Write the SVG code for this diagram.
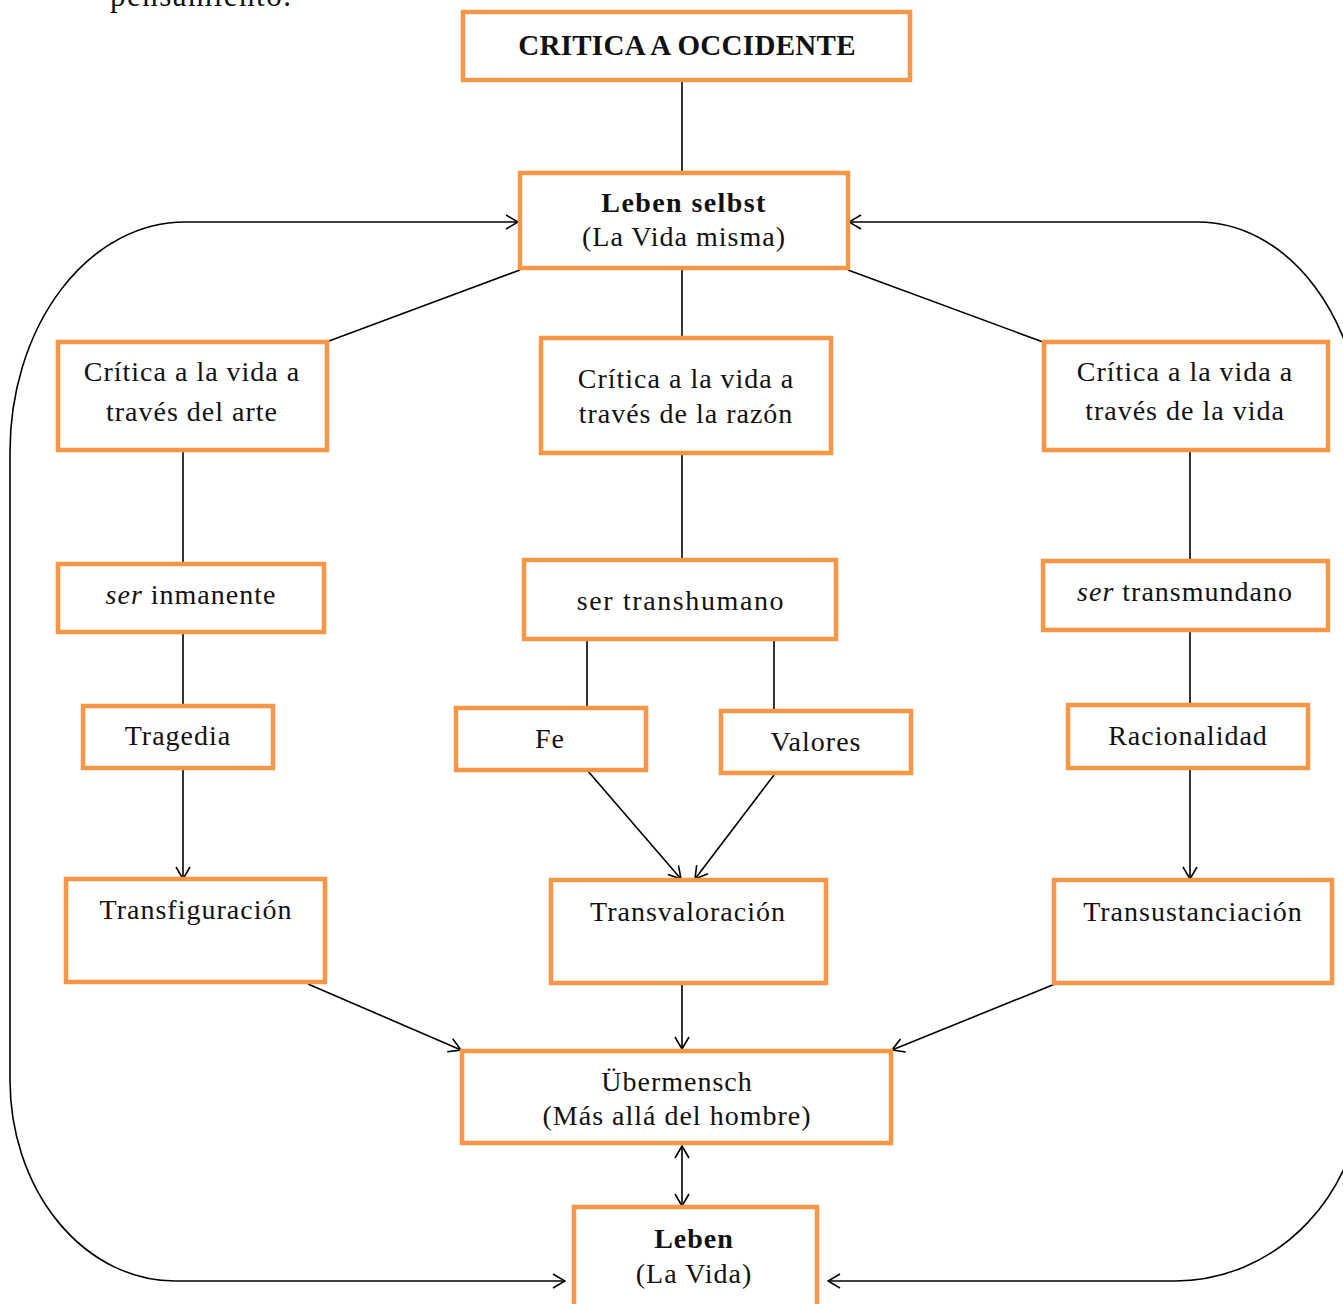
<svg xmlns="http://www.w3.org/2000/svg" width="1343" height="1304" viewBox="0 0 1343 1304">
<style>
.box{fill:#fff;stroke:#F79646;stroke-width:4.5}
.t{font-family:"Liberation Serif","DejaVu Serif",serif;font-size:28px;letter-spacing:1px;fill:#111;text-anchor:middle}
.b{font-weight:bold}
.i{font-style:italic}
.c{fill:none;stroke:#000;stroke-width:1.6}
.a{fill:none;stroke:#000;stroke-width:1.6;marker-end:url(#arr)}
</style>
<defs>
<marker id="arr" viewBox="0 0 14 16" refX="13" refY="8" markerWidth="14" markerHeight="16" markerUnits="userSpaceOnUse" orient="auto-start-reverse">
<path d="M1,1 L13,8 L1,15" fill="none" stroke="#000" stroke-width="1.6"/>
</marker>
</defs>
<text x="110" y="6" class="t" style="text-anchor:start;font-size:31px;letter-spacing:1.5px">pensamiento.</text>
<g id="connectors">
<line class="c" x1="682" y1="82" x2="682" y2="171"/>
<line class="c" x1="520" y1="270" x2="329" y2="341"/>
<line class="c" x1="682" y1="270" x2="682" y2="337"/>
<line class="c" x1="848" y1="270" x2="1043" y2="342"/>
<line class="c" x1="183" y1="452" x2="183" y2="562"/>
<line class="c" x1="183" y1="634" x2="183" y2="705"/>
<line class="a" x1="183" y1="770" x2="183" y2="879"/>
<line class="c" x1="682" y1="455" x2="682" y2="559"/>
<line class="c" x1="587" y1="641" x2="587" y2="707"/>
<line class="c" x1="774" y1="641" x2="774" y2="710"/>
<line class="a" x1="587" y1="770" x2="681" y2="879"/>
<line class="a" x1="774" y1="775" x2="695" y2="879"/>
<line class="c" x1="1190" y1="452" x2="1190" y2="560"/>
<line class="c" x1="1190" y1="632" x2="1190" y2="704"/>
<line class="a" x1="1190" y1="770" x2="1190" y2="879"/>
<line class="a" x1="308" y1="984" x2="461" y2="1050"/>
<line class="a" x1="682" y1="985" x2="682" y2="1049"/>
<line class="a" x1="1055" y1="984" x2="892" y2="1050"/>
<line class="a" x1="682" y1="1146" x2="682" y2="1206" style="marker-start:url(#arr)"/>
<path class="a" d="M185,222 L518,222"/>
<path class="c" d="M185,222 A175,230 0 0 0 10,452 L10,1080 A165,201 0 0 0 175,1281"/>
<path class="a" d="M175,1281 L565,1281"/>
<path class="a" d="M1198,222 L849,222"/>
<path class="c" d="M1198,222 A165,220 0 0 1 1363,442 L1363,1081 A188,200 0 0 1 1175,1281"/>
<path class="a" d="M1175,1281 L828,1281"/>
</g>
<g id="n-critica"><rect class="box" x="463" y="12" width="447" height="68"/><text class="t b" x="687" y="55" style="font-size:29px;letter-spacing:0.3px">CRITICA A OCCIDENTE</text></g>
<g id="n-lebenselbst"><rect class="box" x="520" y="173" width="328" height="95"/><text class="t b" x="684" y="212" style="letter-spacing:1.4px">Leben selbst</text><text class="t" x="684" y="246">(La Vida misma)</text></g>
<g id="n-arte"><rect class="box" x="58" y="342" width="269" height="108"/><text class="t" x="192" y="381">Crítica a la vida a</text><text class="t" x="192" y="421">través del arte</text></g>
<g id="n-razon"><rect class="box" x="541" y="338" width="290" height="115"/><text class="t" x="686" y="388">Crítica a la vida a</text><text class="t" x="686" y="423">través de la razón</text></g>
<g id="n-vida"><rect class="box" x="1044" y="342" width="284" height="108"/><text class="t" x="1185" y="381">Crítica a la vida a</text><text class="t" x="1185" y="420">través de la vida</text></g>
<g id="n-inmanente"><rect class="box" x="58" y="564" width="266" height="68"/><text class="t" x="191" y="604"><tspan class="i">ser</tspan> inmanente</text></g>
<g id="n-transhumano"><rect class="box" x="524" y="560" width="312" height="79"/><text class="t" x="681" y="610" style="letter-spacing:1.6px">ser transhumano</text></g>
<g id="n-transmundano"><rect class="box" x="1043" y="561" width="285" height="69"/><text class="t" x="1185" y="601"><tspan class="i">ser</tspan> transmundano</text></g>
<g id="n-tragedia"><rect class="box" x="83" y="706" width="190" height="62"/><text class="t" x="178" y="745">Tragedia</text></g>
<g id="n-fe"><rect class="box" x="456" y="708" width="190" height="62"/><text class="t" x="550" y="748">Fe</text></g>
<g id="n-valores"><rect class="box" x="721" y="711" width="190" height="62"/><text class="t" x="816" y="751">Valores</text></g>
<g id="n-racionalidad"><rect class="box" x="1068" y="705" width="240" height="63"/><text class="t" x="1188" y="745">Racionalidad</text></g>
<g id="n-transfiguracion"><rect class="box" x="66" y="879" width="259" height="103"/><text class="t" x="196" y="919">Transfiguración</text></g>
<g id="n-transvaloracion"><rect class="box" x="551" y="880" width="275" height="103"/><text class="t" x="688" y="921">Transvaloración</text></g>
<g id="n-transustanciacion"><rect class="box" x="1054" y="880" width="278" height="103"/><text class="t" x="1193" y="921">Transustanciación</text></g>
<g id="n-ubermensch"><rect class="box" x="462" y="1051" width="429" height="92"/><text class="t" x="677" y="1091">Übermensch</text><text class="t" x="677" y="1125">(Más allá del hombre)</text></g>
<g id="n-leben"><rect class="box" x="574" y="1207" width="243" height="110"/><text class="t b" x="694" y="1248">Leben</text><text class="t" x="694" y="1283">(La Vida)</text></g>
</svg>
